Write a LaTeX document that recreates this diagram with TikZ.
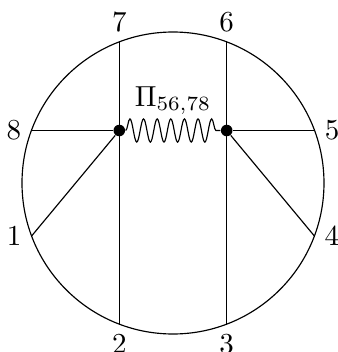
\documentclass[tikz,border=0pt]{standalone}
\usepackage{amsmath,amssymb}
\usepackage{tikz}
\usetikzlibrary{positioning,decorations.pathmorphing}
\tikzset{
  vtx/.style={circle, fill=black, inner sep=0pt, minimum size=4pt},
  leg/.style={thin},
  wavy/.style={decorate, decoration={snake, segment length=4.7pt, amplitude=4pt}},
  lbl/.style={inner sep=3.33pt}}

\begin{document}
\begin{tikzpicture}[x=0.345pt, y=0.345pt]
  \useasboundingbox (-173,-169) rectangle (165,183);
  \draw (0,0) circle (151);
  % internal vertices
  \node[vtx] (vl) at (-53.7,52.5) {};
  \node[vtx] (vr) at (53.7,52.5) {};
  % external points on the circle
  \coordinate (p1) at (-141.4,-53);
  \coordinate (p2) at (-53.7,-141);
  \coordinate (p3) at (53.7,-141);
  \coordinate (p4) at (141.4,-53);
  \coordinate (p5) at (141.6,52.5);
  \coordinate (p6) at (53.7,141);
  \coordinate (p7) at (-53.7,141);
  \coordinate (p8) at (-141.6,52.5);
  \draw[leg] (p7) -- (p2);
  \draw[leg] (p6) -- (p3);
  \draw[leg] (p8) -- (vl);
  \draw[leg] (p1) -- (vl);
  \draw[leg] (p5) -- (vr);
  \draw[leg] (p4) -- (vr);
  \draw[wavy] (vl) -- (vr) node[midway, above=2pt] (pi) {$\Pi_{56,78}$};
  % labels
  \node[lbl, left=0pt of p1] (l1) {1};
  \node[lbl, below=0pt of p2] (l2) {2};
  \node[lbl, below=0pt of p3] (l3) {3};
  \node[lbl, right=0pt of p4] (l4) {4};
  \node[lbl, right=0pt of p5] (l5) {5};
  \node[lbl, above=0pt of p6] (l6) {6};
  \node[lbl, above=0pt of p7] (l7) {7};
  \node[lbl, left=0pt of p8] (l8) {8};
\end{tikzpicture}
\end{document}
